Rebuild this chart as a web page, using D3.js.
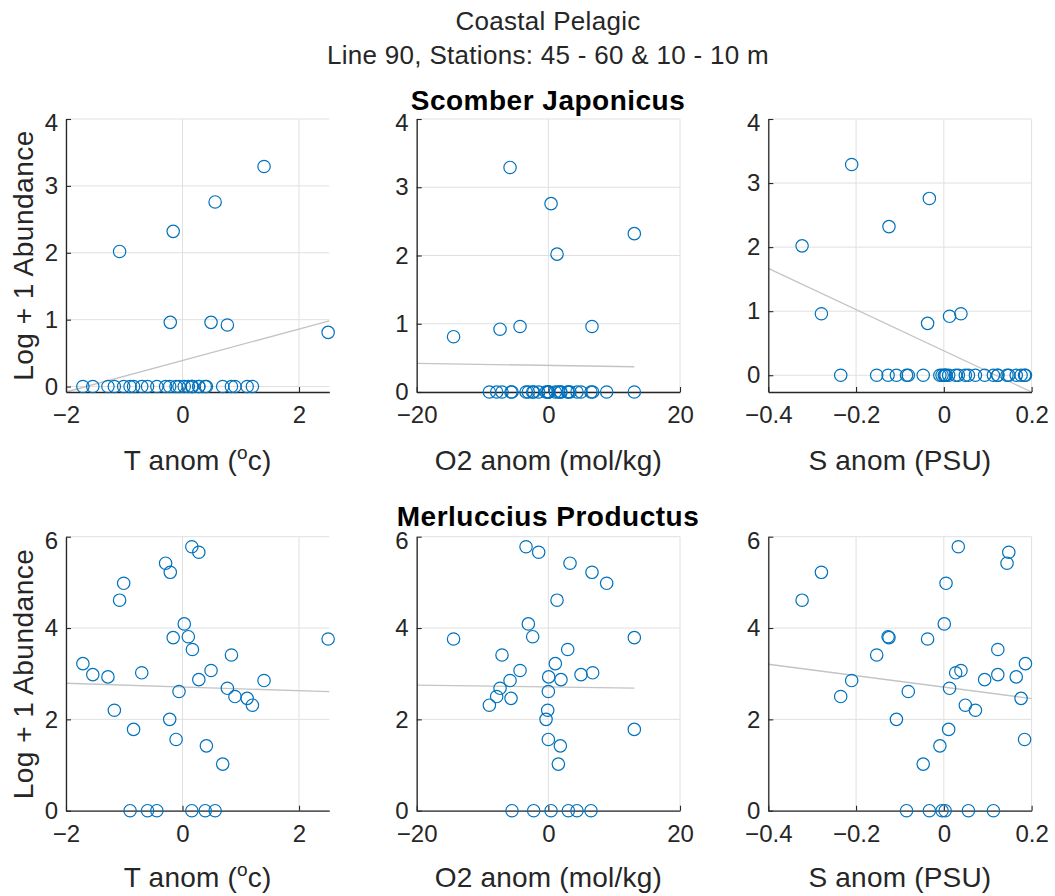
<!DOCTYPE html>
<html><head><meta charset="utf-8">
<script src="https://cdn.jsdelivr.net/npm/d3@7"></script>
<style>
body{margin:0;background:#fff}
text{font-family:"Liberation Sans",Arial,Helvetica,sans-serif;fill:#262626}
</style>
</head><body>
<svg id="c" width="1055" height="896"></svg>
<script>
// ---- data (one entry per sample) ----
const tAnom      = [0.16, 0.28, -0.29, -0.21, -1.01, -1.08, 0.03, 0.10, -0.16, 2.50, 0.17, 0.84, -1.71, 0.49, -0.70, -1.54, -1.28, 0.28, 1.40, 0.77, -0.06, 0.90, 1.11, 1.20, -1.17, -0.22, -0.84, -0.11, 0.41, 0.69, 0.56, -0.90, -0.60, -0.44, 0.16, 0.39];
const o2Anom     = [-3.39, -1.47, 3.29, 6.63, 8.86, 1.32, -3.04, -2.38, 13.06, -14.4, 2.94, -7.04, 1.06, -4.30, 6.73, 4.96, 0.05, 1.92, -5.82, -7.34, 0.00, -7.85, -5.67, -8.96, -0.10, -0.35, 13.06, 0.00, 1.82, 1.52, 0.41, -5.52, -2.23, 3.04, 4.35, 6.48];
const sAnom      = [0.033, 0.148, 0.144, -0.279, 0.005, -0.323, 0.001, -0.127, -0.125, -0.037, 0.123, -0.153, 0.186, 0.039, 0.027, 0.123, 0.165, 0.093, -0.210, 0.013, -0.081, -0.235, 0.176, 0.049, 0.072, -0.108, 0.011, 0.184, -0.009, -0.047, -0.033, -0.085, -0.004, 0.003, 0.056, 0.113];
const scomber    = [0, 0, 0, 0.96, 0, 2.02, 0, 0, 2.32, 0.81, 0, 0, 0, 0.96, 0, 0, 0, 0, 3.29, 0.92, 0, 0, 0, 0, 0, 0, 0, 0, 0, 0, 2.76, 0, 0, 0, 0, 0];
const merluccius = [5.78, 5.66, 5.42, 5.22, 4.98, 4.61, 4.09, 3.81, 3.79, 3.76, 3.53, 3.41, 3.22, 3.07, 3.02, 2.98, 2.93, 2.87, 2.85, 2.68, 2.61, 2.50, 2.46, 2.31, 2.20, 2.00, 1.78, 1.56, 1.42, 1.02, 0, 0, 0, 0, 0, 0];

const mainTitle = ["Coastal Pelagic", "Line 90, Stations: 45 - 60 & 10 - 10 m"];
const speciesNames = ["Scomber Japonicus", "Merluccius Productus"];
const yLabel = "Log + 1 Abundance";
const xLabelParts = [["T anom (", "o", "c)"], ["O2 anom (mol/kg)", "", ""], ["S anom (PSU)", "", ""]];
const xTickValues = [[-2, 0, 2], [-20, 0, 20], [-0.4, -0.2, 0, 0.2]];
const xLimits = [[-2, 2.52], [-20, 20], [-0.4, 0.2]];
const fitRanges = [[-2, 2.52], [-20, 13.06], [-0.4, 0.2]];
const yTickValues = [[0, 1, 2, 3, 4], [0, 2, 4, 6]];
const yMaxValues = [4, 6];

// ---- layout ----
const svg = d3.select("#c");
const colLeft = [66, 416.7, 768.3], colW = 263.3;
const rows = [{top: 119, bottom: 392}, {top: 536.7, bottom: 810.7}];
const xSeries = [tAnom, o2Anom, sAnom];
const ySeries = [scomber, merluccius];
const fmt = d3.format("~g");

function linFit(xv, yv) {
  const mx = d3.mean(xv), my = d3.mean(yv);
  let sxy = 0, sxx = 0;
  xv.forEach((v, i) => { sxy += (v - mx) * (yv[i] - my); sxx += (v - mx) * (v - mx); });
  const b = sxy / sxx;
  return v => my + b * (v - mx);
}

svg.append("text").attr("x", 548).attr("y", 30).attr("text-anchor", "middle")
  .style("font-size", "26px").style("letter-spacing", "0.3px").text(mainTitle[0]);
svg.append("text").attr("x", 548).attr("y", 64).attr("text-anchor", "middle")
  .style("font-size", "26px").style("letter-spacing", "0.3px").text(mainTitle[1]);

rows.forEach((r, ri) => {
  svg.append("text").attr("x", 548).attr("y", ri === 0 ? 110 : 526).attr("text-anchor", "middle")
    .style("font-size", "28px").style("font-weight", "bold").style("letter-spacing", "0.5px")
    .style("fill", "#000").text(speciesNames[ri]);

  colLeft.forEach((cx, ci) => {
    const xv = xSeries[ci], yv = ySeries[ri];
    const f = linFit(xv, yv);
    const fr = fitRanges[ci];
    const yMin = Math.min(0, f(fr[0]), f(fr[1]));
    const x = d3.scaleLinear().domain(xLimits[ci]).range([cx, cx + colW]);
    const y = d3.scaleLinear().domain([yMin, yMaxValues[ri]]).range([r.bottom, r.top]);
    const g = svg.append("g");

    // grid
    g.append("g").selectAll("line").data(xTickValues[ci]).join("line")
      .attr("x1", d => x(d)).attr("x2", d => x(d)).attr("y1", r.top).attr("y2", r.bottom)
      .attr("stroke", "#e0e0e0").attr("stroke-width", 1);
    g.append("g").selectAll("line").data(yTickValues[ri]).join("line")
      .attr("x1", cx).attr("x2", cx + colW).attr("y1", d => y(d)).attr("y2", d => y(d))
      .attr("stroke", "#e0e0e0").attr("stroke-width", 1);

    // fit line
    g.append("line")
      .attr("x1", x(fr[0])).attr("y1", y(f(fr[0])))
      .attr("x2", x(fr[1])).attr("y2", y(f(fr[1])))
      .attr("stroke", "#c4c4c4").attr("stroke-width", 1.3);

    // axes
    const ax = g.append("g").attr("transform", `translate(0,${r.bottom})`)
      .call(d3.axisBottom(x).tickValues(xTickValues[ci]).tickFormat(fmt).tickSize(-5).tickSizeOuter(0).tickPadding(14));
    const ay = g.append("g").attr("transform", `translate(${cx},0)`)
      .call(d3.axisLeft(y).tickValues(yTickValues[ri]).tickFormat(fmt).tickSize(-5).tickSizeOuter(0).tickPadding(8));
    [ax, ay].forEach(a => {
      a.select(".domain").attr("stroke", "#262626").attr("stroke-width", 1.3);
      a.selectAll(".tick line").attr("stroke", "#262626").attr("stroke-width", 1.1);
      a.selectAll(".tick text").style("font-size", "24px").attr("fill", "#262626")
        .style("font-family", '"Liberation Sans",Arial,Helvetica,sans-serif');
    });
    // top y tick label sits slightly lower, as in the reference
    const topVal = yTickValues[ri][yTickValues[ri].length - 1];
    ay.selectAll(".tick").filter(d => d === topVal).select("text").attr("y", 4);

    // points
    g.append("g").selectAll("circle").data(d3.range(xv.length)).join("circle")
      .attr("cx", i => x(xv[i])).attr("cy", i => y(yv[i])).attr("r", 6.2)
      .attr("fill", "none").attr("stroke", "#0072BD").attr("stroke-width", 1.2);

    // x label
    const lbl = g.append("text").attr("x", cx + colW / 2).attr("y", ri === 0 ? 469.5 : 886.7)
      .attr("text-anchor", "middle").style("font-size", "28px").style("letter-spacing", "0.2px");
    const parts = xLabelParts[ci];
    lbl.append("tspan").text(parts[0]);
    if (parts[1]) {
      lbl.append("tspan").attr("dy", -11).style("font-size", "19px").text(parts[1]);
      lbl.append("tspan").attr("dy", 11).text(parts[2]);
    }

    // y label
    if (ci === 0) {
      g.append("text").attr("transform", `translate(32.7,${ri === 0 ? 255.5 : 674}) rotate(-90)`)
        .attr("text-anchor", "middle").style("font-size", "28px").style("letter-spacing", "0.5px").text(yLabel);
    }
  });
});
</script>
</body></html>
